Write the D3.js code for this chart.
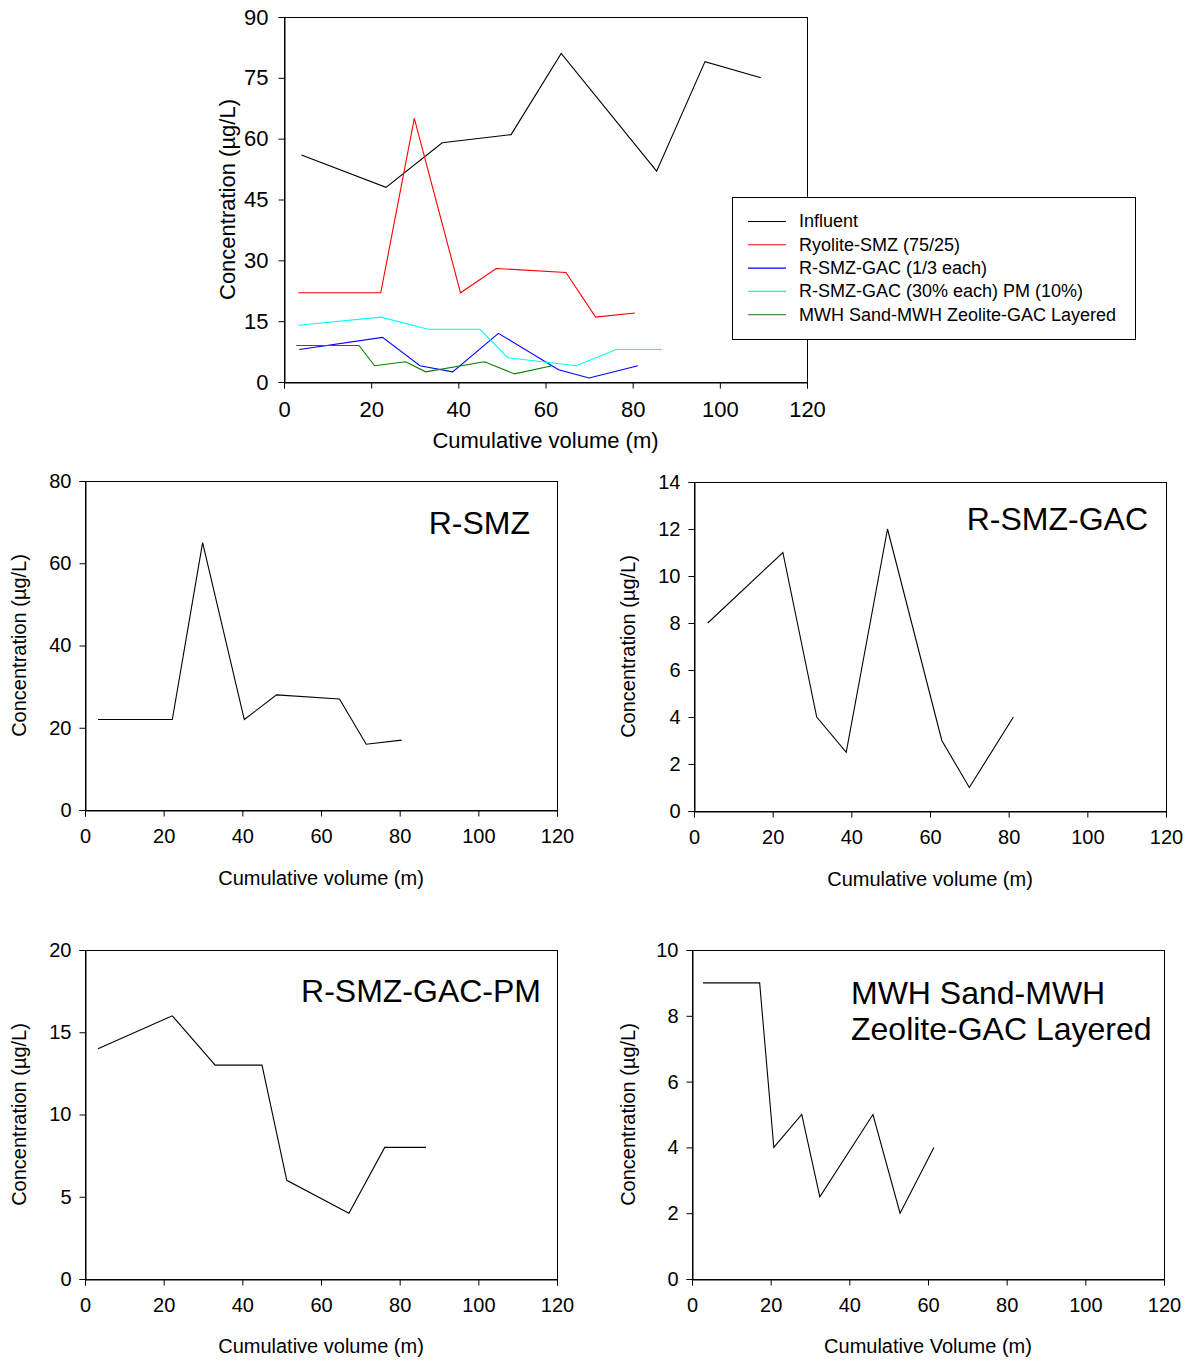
<!DOCTYPE html>
<html>
<head>
<meta charset="utf-8">
<script src="https://cdn.jsdelivr.net/npm/d3@7"></script>
<style>
  html, body { margin: 0; padding: 0; background: #fff; }
  svg { display: block; }
  text { font-family: "Liberation Sans", Arial, sans-serif; fill: #000; }
</style>
</head>
<body>
<svg id="chart" width="1189" height="1362"></svg>
<script>
// ---------------- DATA ----------------
const xTicks = [0, 20, 40, 60, 80, 100, 120];

const influentX = [4.0, 23.4, 36.3, 52.1, 63.6, 85.5, 96.6, 109.4];
const influentY = [56, 48, 59, 61, 81, 52, 79, 75];

const rsmzX = [3.3, 22.2, 29.9, 40.5, 48.7, 64.7, 71.5, 80.5];
const rsmzY = [22, 22, 65, 22, 28, 27, 16, 17];

const rsmzGacX = [3.5, 22.6, 31.2, 38.7, 49.2, 63.0, 70.0, 81.2];
const rsmzGacY = [8, 11, 4, 2.5, 12, 3, 1, 4];

const rsmzGacPmX = [3.3, 22.2, 33.1, 45.0, 51.3, 67.1, 76.2, 86.7];
const rsmzGacPmY = [14, 16, 13, 13, 6, 4, 8, 8];

const mwhX = [2.8, 17.2, 20.8, 27.9, 32.5, 46.0, 52.9, 61.5];
const mwhY = [9, 9, 4, 5, 2.5, 5, 2, 4];

const seriesNames = [
  "Influent",
  "Ryolite-SMZ (75/25)",
  "R-SMZ-GAC (1/3 each)",
  "R-SMZ-GAC (30% each) PM (10%)",
  "MWH Sand-MWH Zeolite-GAC Layered"
];
const seriesColors = ["#000000", "#ff0000", "#0000ff", "#00ffff", "#008000"];

const topYTicks = [0, 15, 30, 45, 60, 75, 90];
const rsmzYTicks = [0, 20, 40, 60, 80];
const rsmzGacYTicks = [0, 2, 4, 6, 8, 10, 12, 14];
const pmYTicks = [0, 5, 10, 15, 20];
const mwhYTicks = [0, 2, 4, 6, 8, 10];

const yTitle = "Concentration (\u00b5g/L)";

// ---------------- DRAWING ----------------
const svg = d3.select("#chart");

function zip(xs, ys) { return xs.map((x, i) => [x, ys[i]]); }

function panel(o) {
  const g = svg.append("g");
  const x = d3.scaleLinear().domain([0, 120]).range([o.left, o.right]);
  const y = d3.scaleLinear().domain([0, o.yMax]).range([o.bottom, o.top]);

  g.append("rect")
    .attr("x", o.left + 0.5).attr("y", o.top + 0.5)
    .attr("width", o.right - o.left).attr("height", o.bottom - o.top)
    .attr("fill", "none").attr("stroke", "#000").attr("stroke-width", 1);

  const xa = g.append("g").attr("transform", `translate(0,${o.bottom + 0.5})`)
    .call(d3.axisBottom(x).tickValues(xTicks).tickSize(6).tickPadding(o.xPad).tickFormat(d3.format("d")));
  const ya = g.append("g").attr("transform", `translate(${o.left + 0.5},0)`)
    .call(d3.axisLeft(y).tickValues(o.yTicks).tickSize(6).tickPadding(o.yPad).tickFormat(d3.format("d")));
  [xa, ya].forEach(a => {
    a.select(".domain").attr("stroke", "#000");
    a.selectAll(".tick line").attr("stroke", "#000");
    a.selectAll(".tick text").attr("font-size", o.tickFont).attr("font-family", "Liberation Sans, Arial, sans-serif").attr("fill", "#000");
  });

  const line = d3.line().x(d => x(d[0])).y(d => y(d[1]));
  o.series.forEach(s => {
    g.append("path").datum(zip(s.xs, s.ys))
      .attr("d", line).attr("fill", "none")
      .attr("stroke", s.color).attr("stroke-width", 1.1);
  });

  g.append("text").attr("x", (o.left + o.right) / 2).attr("y", o.xTitleY)
    .attr("text-anchor", "middle").attr("dy", "0.35em")
    .attr("font-size", o.titleFont).text(o.xTitle);
  g.append("text")
    .attr("transform", `translate(${o.yTitleX},${(o.top + o.bottom) / 2}) rotate(-90)`)
    .attr("text-anchor", "middle").attr("dy", "0.35em")
    .attr("font-size", o.titleFont).text(yTitle);

  if (o.note) {
    o.note.lines.forEach((t, i) => {
      g.append("text").attr("x", o.note.x).attr("y", o.note.y + i * o.note.lh)
        .attr("text-anchor", o.note.anchor).attr("dy", "0.35em")
        .attr("font-size", o.note.size).text(t);
    });
  }
  return { g, x, y };
}

// Top combined chart
panel({
  left: 284, right: 807, top: 17, bottom: 382, yMax: 90, yTicks: topYTicks,
  tickFont: 22, titleFont: 22, xPad: 13, yPad: 10,
  xTitle: "Cumulative volume (m)", xTitleY: 440, yTitleX: 227,
  series: [
    { xs: influentX, ys: influentY, color: seriesColors[0] },
    { xs: rsmzX, ys: rsmzY, color: seriesColors[1] },
    { xs: rsmzGacX, ys: rsmzGacY, color: seriesColors[2] },
    { xs: rsmzGacPmX, ys: rsmzGacPmY, color: seriesColors[3] },
    { xs: mwhX, ys: mwhY, color: seriesColors[4] }
  ]
});

// Legend
const leg = svg.append("g");
leg.append("rect").attr("x", 732.5).attr("y", 197.5).attr("width", 403).attr("height", 142)
  .attr("fill", "#fff").attr("stroke", "#000").attr("stroke-width", 1);
seriesNames.forEach((n, i) => {
  const yy = 221 + i * 23.3;
  leg.append("line").attr("x1", 748).attr("x2", 786).attr("y1", yy + 0.5).attr("y2", yy + 0.5)
    .attr("stroke", seriesColors[i]).attr("stroke-width", 1.1);
  leg.append("text").attr("x", 799).attr("y", yy).attr("dy", "0.35em")
    .attr("font-size", 18).text(n);
});

// R-SMZ
panel({
  left: 85, right: 557, top: 481, bottom: 810, yMax: 80, yTicks: rsmzYTicks,
  tickFont: 20, titleFont: 20, xPad: 12, yPad: 8,
  xTitle: "Cumulative volume (m)", xTitleY: 878, yTitleX: 19,
  series: [{ xs: rsmzX, ys: rsmzY, color: "#000" }],
  note: { lines: ["R-SMZ"], x: 530, y: 523, lh: 0, anchor: "end", size: 32 }
});

// R-SMZ-GAC
panel({
  left: 694, right: 1166, top: 482, bottom: 811, yMax: 14, yTicks: rsmzGacYTicks,
  tickFont: 20, titleFont: 20, xPad: 12, yPad: 8,
  xTitle: "Cumulative volume (m)", xTitleY: 879, yTitleX: 628,
  series: [{ xs: rsmzGacX, ys: rsmzGacY, color: "#000" }],
  note: { lines: ["R-SMZ-GAC"], x: 1148, y: 519, lh: 0, anchor: "end", size: 32 }
});

// R-SMZ-GAC-PM
panel({
  left: 85, right: 557, top: 950, bottom: 1279, yMax: 20, yTicks: pmYTicks,
  tickFont: 20, titleFont: 20, xPad: 12, yPad: 8,
  xTitle: "Cumulative volume (m)", xTitleY: 1346, yTitleX: 19,
  series: [{ xs: rsmzGacPmX, ys: rsmzGacPmY, color: "#000" }],
  note: { lines: ["R-SMZ-GAC-PM"], x: 541, y: 991, lh: 0, anchor: "end", size: 32 }
});

// MWH
panel({
  left: 692, right: 1164, top: 950, bottom: 1279, yMax: 10, yTicks: mwhYTicks,
  tickFont: 20, titleFont: 20, xPad: 12, yPad: 8,
  xTitle: "Cumulative Volume (m)", xTitleY: 1346, yTitleX: 628,
  series: [{ xs: mwhX, ys: mwhY, color: "#000" }],
  note: { lines: ["MWH Sand-MWH", "Zeolite-GAC Layered"], x: 851, y: 993, lh: 36, anchor: "start", size: 32 }
});
</script>
</body>
</html>
